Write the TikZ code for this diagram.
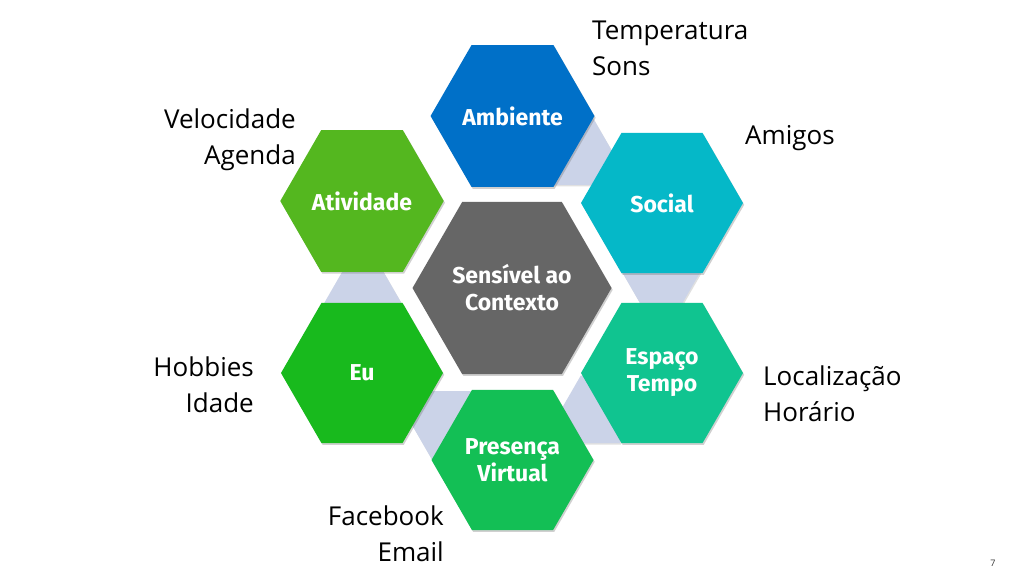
\documentclass[tikz,border=0pt]{standalone}
\usepackage{fontspec}
\setmainfont{Open Sans}
\newfontfamily\hexfont{Fira Sans}
\usetikzlibrary{shapes.geometric,shadows}
\definecolor{cAmb}{HTML}{0070C8}
\definecolor{cSoc}{HTML}{05B8C8}
\definecolor{cEsp}{HTML}{10C490}
\definecolor{cPre}{HTML}{13BF55}
\definecolor{cEu}{HTML}{18BA1D}
\definecolor{cAti}{HTML}{54B71F}
\definecolor{cCen}{HTML}{666666}
\definecolor{cLink}{HTML}{CBD3E8}
\begin{document}
\begin{tikzpicture}[x=1pt,y=-1pt,
  hexo/.style={regular polygon, regular polygon sides=6, minimum size=162pt,
    inner sep=0pt, text=white, align=center,
    font=\hexfont\bfseries\fontsize{23}{27}\selectfont,
    drop shadow={shadow xshift=1.2pt, shadow yshift=-1.8pt, opacity=0.3, fill=black!60}},
  hexc/.style={hexo, minimum size=199pt},
  link/.style={regular polygon, regular polygon sides=6, minimum size=78pt,
    inner sep=0pt, fill=cLink,
    drop shadow={shadow xshift=1pt, shadow yshift=-1.5pt, opacity=0.2, fill=black!60}},
  lab/.style={font=\fontsize{26}{36}\selectfont, inner sep=0pt, text=black}]
\useasboundingbox (0,0) rectangle (1024,576);
\fill[white] (0,0) rectangle (1024,576);

% connector hexagons (behind)
\node[link] (l1) at (573.0,151.0) {};
\node[link] (l2) at (661.2,272.3) {};
\node[link] (l3) at (600.2,409.4) {};
\node[link] (l4) at (451.0,425.0) {};
\node[link] (l5) at (362.8,303.7) {};

% main hexagons
\node[hexc, fill=cCen] (cen) at (512,288) {Sensível ao\\Contexto};
\node[hexo, fill=cAmb] (amb) at (512.5,116) {Ambiente};
\node[hexo, fill=cSoc] (soc) at (662,203) {Social};
\node[hexo, fill=cEsp] (esp) at (662,373) {Espaço\\Tempo};
\node[hexo, fill=cPre] (pre) at (512.5,460) {Presença\\Virtual};
\node[hexo, fill=cEu] (eu) at (362,373) {Eu};
\node[hexo, fill=cAti] (ati) at (362,201) {Atividade};

% annotations (base anchor = baseline of the last line)
\node[lab, anchor=base west, align=left] (t1) at (592,75) {Temperatura\\Sons};
\node[lab, anchor=base west, align=left] (t2) at (745,144) {Amigos};
\node[lab, anchor=base east, align=right] (t3) at (296,164) {Velocidade\\Agenda};
\node[lab, anchor=base east, align=right] (t4) at (254,412) {Hobbies\\Idade};
\node[lab, anchor=base west, align=left] (t5) at (763,421) {Localização\\Horário};
\node[lab, anchor=base east, align=right] (t6) at (444,561) {Facebook\\Email};

\node[font=\fontsize{9}{10}\selectfont, text=black!80, inner sep=0pt] (pg) at (993,563) {7};
\end{tikzpicture}
\end{document}
